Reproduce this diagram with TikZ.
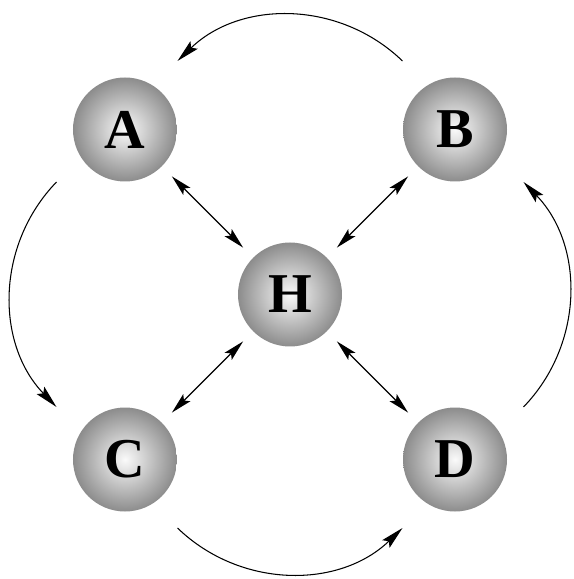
\documentclass[tikz,border=0pt]{standalone}
\usepackage{fontspec}
\setmainfont{Liberation Serif}
\usepackage{xcolor}
\usepackage{tikz}
\usetikzlibrary{positioning, arrows.meta}
\definecolor{ballcore}{HTML}{FAFAFA}
\definecolor{ballrim}{HTML}{8C8C8C}
\tikzset{
  ball/.style={circle, shading=radial, inner color=ballcore, outer color=ballrim, minimum size=20.8mm, inner sep=0pt, font=\fontsize{32}{36}\selectfont\bfseries},
  link/.style={{Stealth[length=4.2mm, width=2mm, inset=0.8mm]}-{Stealth[length=4.2mm, width=2mm, inset=0.8mm]}, line width=0.8pt, shorten <=2.8mm, shorten >=2.8mm},
  cycle/.style={-{Stealth[length=4.6mm, width=2.1mm, inset=0.8mm]}, line width=0.6pt},
}
\begin{document}
\begin{tikzpicture}[node distance=3.3cm and 3.3cm, on grid]
  % Hub
  \node[ball] (H) {H};
  \useasboundingbox ([shift={(-5.8,-5.69)}]H) rectangle ([shift={(5.66,5.89)}]H);
  % Corner nodes
  \node[ball, above left=of H] (A) {A};
  \node[ball, above right=of H] (B) {B};
  \node[ball, below left=of H] (C) {C};
  \node[ball, below right=of H] (D) {D};

  % Links to the hub
  \draw[link] (A) -- (H);
  \draw[link] (B) -- (H);
  \draw[link] (C) -- (H);
  \draw[link] (D) -- (H);

  % End points of the outer arcs
  \coordinate (ba1) at ([shift={(2.25,4.67)}]H);
  \coordinate (ba2) at ([shift={(-2.25,4.67)}]H);
  \coordinate (ac1) at ([shift={(-4.67,2.25)}]H);
  \coordinate (ac2) at ([shift={(-4.67,-2.25)}]H);
  \coordinate (cd1) at ([shift={(-2.25,-4.67)}]H);
  \coordinate (cd2) at ([shift={(2.25,-4.67)}]H);
  \coordinate (db1) at ([shift={(4.67,-2.25)}]H);
  \coordinate (db2) at ([shift={(4.67,2.25)}]H);

  % Outer cycle B -> A -> C -> D -> B
  \draw[cycle] (ba1) to[bend right=44] (ba2);
  \draw[cycle] (ac1) to[bend right=44] (ac2);
  \draw[cycle] (cd1) to[bend right=44] (cd2);
  \draw[cycle] (db1) to[bend right=44] (db2);
\end{tikzpicture}
\end{document}
